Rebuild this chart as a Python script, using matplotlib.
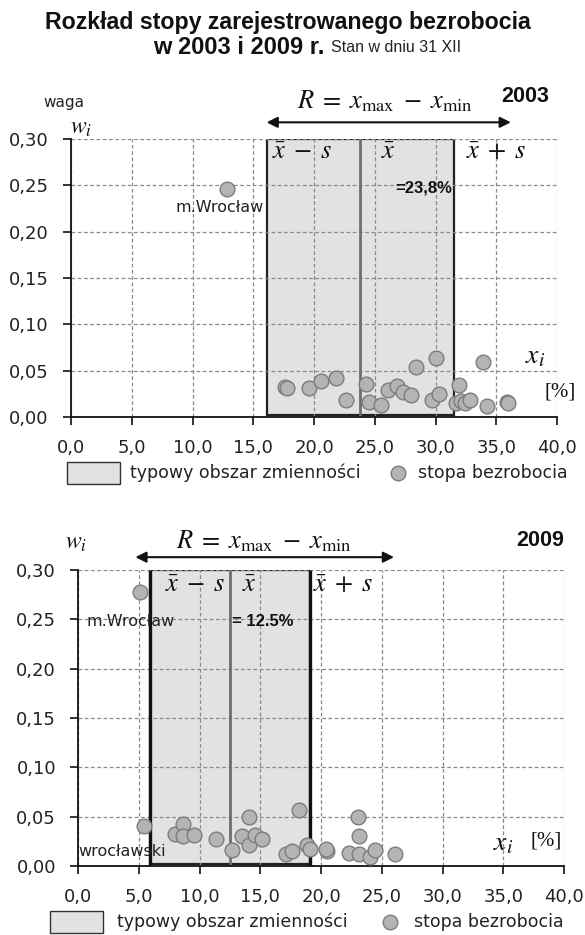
import matplotlib
matplotlib.use('Agg')
import matplotlib.pyplot as plt
from matplotlib.patches import Rectangle
import matplotlib.lines as mlines

plt.rcParams['font.family'] = ['DejaVu Sans']
plt.rcParams['mathtext.fontset'] = 'stix'

# ---------------- data ----------------
x_ticks = [0, 5, 10, 15, 20, 25, 30, 35, 40]
x_tick_labels = ['0,0', '5,0', '10,0', '15,0', '20,0', '25,0', '30,0', '35,0', '40,0']
y_ticks = [0.00, 0.05, 0.10, 0.15, 0.20, 0.25, 0.30]
y_tick_labels = ['0,00', '0,05', '0,10', '0,15', '0,20', '0,25', '0,30']

rate_2003 = [12.85, 17.6, 17.8, 19.6, 20.6, 21.8, 22.6, 24.3, 24.5, 25.5, 26.1, 26.8,
             27.3, 28.0, 28.4, 30.0, 29.7, 30.3, 31.9, 31.7, 32.1, 32.4, 32.8, 33.9,
             34.2, 35.9, 36.0]
weight_2003 = [0.246, 0.032, 0.031, 0.031, 0.039, 0.042, 0.018, 0.036, 0.016, 0.013, 0.029, 0.033,
               0.027, 0.024, 0.054, 0.064, 0.018, 0.025, 0.035, 0.015, 0.017, 0.015, 0.018, 0.059,
               0.012, 0.016, 0.015]

rate_2009 = [5.08, 5.44, 7.97, 8.6, 8.6, 9.53, 11.34, 12.63, 13.46, 14.09, 14.09, 14.56,
             15.1, 17.1, 17.58, 18.15, 18.87, 19.1, 20.46, 20.4, 22.3, 23.0, 23.1, 23.1,
             24.0, 24.4, 26.1]
weight_2009 = [0.278, 0.041, 0.032, 0.043, 0.030, 0.031, 0.027, 0.016, 0.030, 0.050, 0.021, 0.031,
               0.027, 0.012, 0.015, 0.057, 0.021, 0.017, 0.015, 0.017, 0.013, 0.050, 0.030, 0.012,
               0.0095, 0.016, 0.012]

mean_2003, sd_2003 = 23.8, 7.7
mean_2009, sd_2009 = 12.5, 6.6
range_2003 = (16.1, 36.2)
range_2009 = (4.7, 26.0)

# ---------------- layout helpers ----------------
W, H = 585, 935
fig = plt.figure(figsize=(W / 100, H / 100), dpi=100)


def fx(x):
    return x / W


def fy(y):
    return 1 - y / H


def txt(x, y, s, **kw):
    fig.text(fx(x), fy(y), s, **kw)


SERIF = ['Liberation Serif', 'DejaVu Serif']
SANS_B = ['Liberation Sans', 'DejaVu Sans']

# title
txt(288, 22, 'Rozkład stopy zarejestrowanego bezrobocia', ha='center', va='center',
    family=SANS_B, fontweight='bold', fontsize=16.7, color='#111')
txt(324, 47, 'w 2003 i 2009 r.', ha='right', va='center',
    family=SANS_B, fontweight='bold', fontsize=17, color='#111')
txt(331, 47, 'Stan w dniu 31 XII', ha='left', va='center',
    family=SANS_B, fontsize=11.5, color='#222')


def panel(left, right, y0, y30, xs, ws, mean, sd, rng, thick_sides):
    ax = fig.add_axes([fx(left), fy(y0), fx(right) - fx(left), (y0 - y30) / H])
    ax.set_xlim(0, 40)
    ax.set_ylim(0, 0.30)
    for sp in ['top', 'right']:
        ax.spines[sp].set_visible(False)
    for sp in ['left', 'bottom']:
        ax.spines[sp].set_linewidth(1.3)
        ax.spines[sp].set_color('#111')
    ax.set_xticks(x_ticks)
    ax.set_xticklabels(x_tick_labels)
    ax.set_yticks(y_ticks)
    ax.set_yticklabels(y_tick_labels)
    ax.tick_params(axis='both', direction='out', length=6, width=1.2, color='#111',
                   labelsize=13, labelcolor='#222')
    ax.tick_params(axis='y', pad=10)
    ax.tick_params(axis='x', pad=10)
    ax.set_axisbelow('line')
    ax.grid(True, linestyle=(0, (3, 2)), color='#8a8a8a', linewidth=0.9)
    ax.patch.set_alpha(0)
    # typical area
    lo, hi = mean - sd, mean + sd
    ax.add_patch(Rectangle((lo, 0.002), hi - lo, 0.298, facecolor='#e2e2e2',
                           edgecolor='#222', linewidth=1.6, zorder=1))
    if thick_sides:
        ax.plot([lo, lo], [0, 0.30], color='#111', lw=2.4, zorder=2, solid_capstyle='butt')
        ax.plot([hi, hi], [0, 0.30], color='#111', lw=2.4, zorder=2, solid_capstyle='butt')
    ax.plot([mean, mean], [0, 0.30], color='#6e6e6e', lw=2.0, zorder=2, solid_capstyle='butt')
    # points
    ax.scatter(xs, ws, s=112, c='#b4b4b4', edgecolors='#7c7c7c', linewidths=1.0,
               zorder=4, clip_on=False)
    # range arrow
    yarr = 0.30 + (0.018 if not thick_sides else 0.013)
    ax.annotate('', xy=(rng[0], yarr), xytext=(rng[1], yarr),
                arrowprops=dict(arrowstyle='<|-|>', color='#111', lw=1.5, mutation_scale=16,
                                shrinkA=0, shrinkB=0),
                annotation_clip=False)
    return ax


ax1 = panel(71, 557, 417, 139, rate_2003, weight_2003, mean_2003, sd_2003, range_2003, False)
ax2 = panel(78.3, 564, 866, 570, rate_2009, weight_2009, mean_2009, sd_2009, range_2009, True)

RTXT = '$R\\;=\\;x_{\\mathrm{max}}\\;-\\;x_{\\mathrm{min}}$'
MINUS = '$\\bar{x}\\;-\\;s$'
PLUS = '$\\bar{x}\\;+\\;s$'

# ---- annotations top panel ----
txt(64, 102, 'waga', ha='center', va='center', fontsize=11, color='#222')
txt(70, 127, '$w_i$', ha='left', va='center', fontsize=17, color='#111')
txt(385, 101, RTXT, ha='center', va='center', fontsize=19, color='#111')
txt(525, 97, '2003', ha='center', va='center', family=SANS_B, fontweight='bold',
    fontsize=15.5, color='#111')
txt(272, 152, MINUS, ha='left', va='center', fontsize=19, color='#111')
txt(381, 152, '$\\bar{x}$', ha='left', va='center', fontsize=19, color='#111')
txt(466, 152, PLUS, ha='left', va='center', fontsize=19, color='#111')
txt(452, 188, '=23,8%', ha='right', va='center', family=SANS_B, fontweight='bold',
    fontsize=12, color='#111')
txt(220, 208, 'm.Wrocław', ha='center', va='center', fontsize=11.5, color='#222')
txt(525, 355, '$x_i$', ha='left', va='center', fontsize=20, color='#111')
txt(545, 392, '[%]', ha='left', va='center', family=SERIF, fontsize=15, color='#111')

# ---- annotations bottom panel ----
txt(65, 542, '$w_i$', ha='left', va='center', fontsize=17, color='#111')
txt(264, 541, RTXT, ha='center', va='center', fontsize=19, color='#111')
txt(540, 540, '2009', ha='center', va='center', family=SANS_B, fontweight='bold',
    fontsize=15.5, color='#111')
txt(165, 585, MINUS, ha='left', va='center', fontsize=19, color='#111')
txt(242, 585, '$\\bar{x}$', ha='left', va='center', fontsize=19, color='#111')
txt(313, 585, PLUS, ha='left', va='center', fontsize=19, color='#111')
txt(232, 621, '= 12.5%', ha='left', va='center', family=SANS_B, fontweight='bold',
    fontsize=12, color='#111')
txt(87, 621, 'm.Wrocław', ha='left', va='center', fontsize=11.5, color='#222')
txt(78, 851, 'wrocławski', ha='left', va='center', fontsize=11.5, color='#222')
txt(493, 842, '$x_i$', ha='left', va='center', fontsize=20, color='#111')
txt(530, 841, '[%]', ha='left', va='center', family=SERIF, fontsize=15, color='#111')


# ---- legends ----
def legend(y, rect_x, text_x, mark_x, mtext_x):
    fig.add_artist(Rectangle((fx(rect_x[0]), fy(y + 11)), fx(rect_x[1] - rect_x[0]), 22 / H,
                             facecolor='#e2e2e2', edgecolor='#333', linewidth=1.0,
                             transform=fig.transFigure))
    txt(text_x, y, 'typowy obszar zmienności', ha='left', va='center', fontsize=12.5, color='#222')
    fig.add_artist(mlines.Line2D([fx(mark_x)], [fy(y)], marker='o', markersize=10.5,
                                 markerfacecolor='#b4b4b4', markeredgecolor='#7c7c7c',
                                 markeredgewidth=1.0, transform=fig.transFigure))
    txt(mtext_x, y, 'stopa bezrobocia', ha='left', va='center', fontsize=12.5, color='#222')


legend(473, (67, 120), 130, 398, 418)
legend(922, (50, 103), 117, 390, 414)

fig.savefig('out.png', dpi=100)
